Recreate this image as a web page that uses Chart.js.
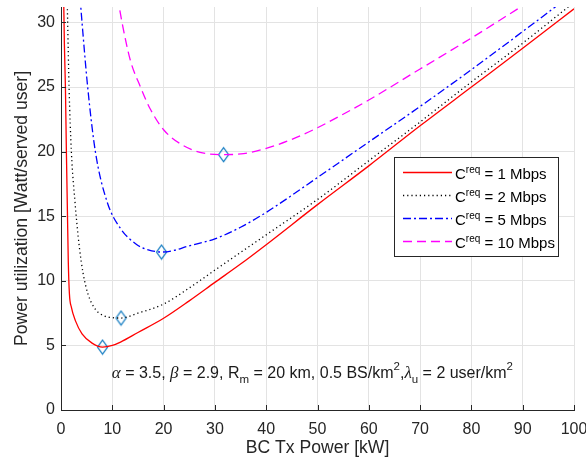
<!DOCTYPE html>
<html>
<head>
<meta charset="utf-8">
<script src="https://cdn.jsdelivr.net/npm/chart.js@4.4.1/dist/chart.umd.min.js"></script>
<style>
  html, body { margin: 0; padding: 0; background: #fff; }
  #wrap { width: 586px; height: 466px; }
</style>
</head>
<body>
<div id="wrap"><canvas id="chart" width="586" height="466"></canvas></div>
<script>
// tick labels
const xTicks = [0, 10, 20, 30, 40, 50, 60, 70, 80, 90, 100];
const yTicks = [0, 5, 10, 15, 20, 25, 30];

// series labels (rate requirement)
const rates = ["1 Mbps", "2 Mbps", "5 Mbps", "10 Mbps"];

// BC Tx power [kW] vs power utilization [Watt/served user]
const powerR1 = [0.5, 0.65, 0.86, 1.05, 1.25, 1.42, 1.64, 2.03, 2.8, 4.1, 6.05, 8.1, 10, 11.6, 15, 20, 25, 30, 35, 40, 50, 60, 70, 80, 90, 100];
const utilR1  = [32.5, 28.5, 25, 20, 15.4, 11.5, 9.0, 7.94, 6.92, 5.9, 5.18, 4.87, 5.0, 5.26, 6.0, 7.1, 8.45, 9.88, 11.3, 12.8, 15.9, 18.9, 22.0, 25.0, 28.0, 31.06];

const powerR2 = [1.15, 1.3, 1.57, 2.02, 2.75, 3.13, 3.58, 4.3, 5.27, 6.7, 8.65, 10, 11.7, 15, 20, 25, 30, 35, 40, 50, 60, 70, 80, 90, 99.5];
const utilR2  = [33, 30, 25, 20, 16.0, 14.3, 12.6, 10.6, 8.97, 7.8, 7.25, 7.15, 7.12, 7.5, 8.2, 9.45, 10.83, 12.2, 13.56, 16.3, 19.3, 22.3, 25.4, 28.4, 31.4];

const powerR5 = [3.7, 4.1, 5.2, 6.7, 9.0, 11.57, 14.8, 17, 19.6, 22, 24.6, 30, 35, 40, 50, 60, 70, 80, 90, 97];
const utilR5  = [32, 30, 25, 20, 16.1, 14.07, 12.8, 12.4, 12.23, 12.35, 12.67, 13.25, 14.15, 15.3, 18.0, 20.75, 23.5, 26.35, 29.3, 31.4];

const powerR10 = [11.0, 11.9, 13.5, 15.5, 17.4, 20, 23.3, 27.1, 31.7, 35.6, 40, 45, 50, 55, 60, 70, 80, 90];
const utilR10  = [32, 30, 27.1, 25, 23.3, 21.7, 20.6, 19.95, 19.77, 19.85, 20.25, 20.95, 21.85, 22.9, 24.0, 26.4, 28.8, 31.3];

// optimum points (diamonds)
const optPower = [8.1, 11.7, 19.6, 31.7];
const optUtil  = [4.87, 7.12, 12.23, 19.77];

const FONT = "'Liberation Sans', Arial, Helvetica, sans-serif";
const AXIS_COLOR = "#262626";

function pts(xs, ys) {
  return xs.map((x, i) => ({ x: x, y: ys[i] }));
}

// diamond marker like matlab 'd'
function diamond() {
  const c = document.createElement("canvas");
  c.width = 13;
  c.height = 17;
  const g = c.getContext("2d");
  g.strokeStyle = "#0072BD";
  g.lineWidth = 1.2;
  g.beginPath();
  g.moveTo(6.5, 1.5);
  g.lineTo(11.5, 8.5);
  g.lineTo(6.5, 15.5);
  g.lineTo(1.5, 8.5);
  g.closePath();
  g.stroke();
  return c;
}

const curveStyles = [
  { color: "#ff0000", dash: [] },
  { color: "#000000", dash: [1.2, 3] },
  { color: "#0000ff", dash: [8, 3, 2, 3] },
  { color: "#ff00ff", dash: [9, 5] }
];

const curves = [pts(powerR1, utilR1), pts(powerR2, utilR2), pts(powerR5, utilR5), pts(powerR10, utilR10)];

const datasets = curves.map((d, i) => ({
  label: rates[i],
  data: d,
  borderColor: curveStyles[i].color,
  borderDash: curveStyles[i].dash,
  borderWidth: 1.3,
  pointRadius: 0,
  cubicInterpolationMode: "monotone",
  fill: false,
  clip: 0
}));

datasets.push({
  label: "opt",
  data: pts(optPower, optUtil),
  showLine: false,
  pointStyle: diamond(),
  pointRadius: 6,
  borderColor: "#0072BD",
  clip: false
});

// ticks pointing inward, like matlab
const inwardTicks = {
  id: "inwardTicks",
  afterDraw(chart) {
    const { ctx, chartArea: a, scales: { x, y } } = chart;
    ctx.save();
    ctx.strokeStyle = AXIS_COLOR;
    ctx.lineWidth = 1;
    ctx.beginPath();
    xTicks.forEach(v => {
      const px = Math.round(x.getPixelForValue(v)) + 0.5;
      ctx.moveTo(px, a.bottom);
      ctx.lineTo(px, a.bottom - 5);
    });
    yTicks.forEach(v => {
      const py = Math.round(y.getPixelForValue(v)) + 0.5;
      ctx.moveTo(a.left, py);
      ctx.lineTo(a.left + 5, py);
    });
    ctx.stroke();
    ctx.restore();
  }
};

function richText(ctx, x, y, parts) {
  parts.forEach(p => {
    ctx.font = p.font;
    ctx.fillText(p.t, x, y + (p.dy || 0));
    x += ctx.measureText(p.t).width;
  });
  return x;
}

const legendBox = {
  id: "legendBox",
  afterDraw(chart) {
    const ctx = chart.ctx;
    const left = 394, top = 157, w = 164, h = 99;
    ctx.save();
    ctx.fillStyle = "#fff";
    ctx.fillRect(left, top, w, h);
    ctx.strokeStyle = AXIS_COLOR;
    ctx.lineWidth = 1;
    ctx.strokeRect(left + 0.5, top + 0.5, w, h);
    rates.forEach((r, i) => {
      const ly = 172.5 + i * 23;
      const ds = chart.data.datasets[i];
      ctx.strokeStyle = ds.borderColor;
      ctx.lineWidth = ds.borderWidth;
      ctx.setLineDash(ds.borderDash);
      ctx.beginPath();
      ctx.moveTo(403, ly);
      ctx.lineTo(452, ly);
      ctx.stroke();
      ctx.setLineDash([]);
      ctx.fillStyle = "#000";
      ctx.textBaseline = "alphabetic";
      richText(ctx, 455, ly + 6.5, [
        { t: "C", font: "15px " + FONT },
        { t: "req", font: "10px " + FONT, dy: -6 },
        { t: " = " + r, font: "15px " + FONT }
      ]);
    });
    ctx.restore();
  }
};

const note = {
  id: "note",
  afterDraw(chart) {
    const { ctx, scales: { x, y } } = chart;
    const sans = "16px " + FONT;
    const small = "11.5px " + FONT;
    const greek = "italic 17px 'Liberation Serif', 'DejaVu Serif', serif";
    ctx.save();
    ctx.fillStyle = "#1a1a1a";
    ctx.textBaseline = "alphabetic";
    richText(ctx, x.getPixelForValue(9.9), y.getPixelForValue(2.47), [
      { t: "\u03b1", font: greek },
      { t: " = 3.5, ", font: sans },
      { t: "\u03b2", font: greek },
      { t: " = 2.9, R", font: sans },
      { t: "m", font: small, dy: 5 },
      { t: " = 20 km, 0.5 BS/km", font: sans },
      { t: "2", font: small, dy: -8 },
      { t: ",", font: sans },
      { t: "\u03bb", font: greek },
      { t: "u", font: small, dy: 5 },
      { t: " = 2 user/km", font: sans },
      { t: "2", font: small, dy: -8 }
    ]);
    ctx.restore();
  }
};

new Chart(document.getElementById("chart"), {
  type: "line",
  data: { datasets: datasets },
  options: {
    responsive: false,
    devicePixelRatio: 1,
    animation: false,
    parsing: false,
    layout: { padding: { left: 0, top: 3, right: 12, bottom: 0 } },
    plugins: {
      legend: { display: false },
      tooltip: { enabled: false }
    },
    scales: {
      x: {
        type: "linear",
        min: 0,
        max: 100,
        afterBuildTicks: s => { s.ticks = xTicks.map(v => ({ value: v })); },
        afterFit: s => { s.height = 56; s.paddingLeft = 0; s.paddingRight = 0; },
        grid: { color: "#e3e3e3", drawTicks: false },
        border: { color: AXIS_COLOR, width: 1 },
        ticks: { padding: 10, color: AXIS_COLOR, font: { family: FONT, size: 16 }, maxRotation: 0 },
        title: {
          display: true,
          text: "BC Tx Power [kW]",
          color: AXIS_COLOR,
          font: { family: FONT, size: 17.6 },
          padding: { top: 0, bottom: 7 }
        }
      },
      y: {
        type: "linear",
        min: 0,
        max: 31.2,
        afterBuildTicks: s => { s.ticks = yTicks.map(v => ({ value: v })); },
        afterFit: s => { s.width = 61; s.paddingTop = 0; s.paddingBottom = 0; },
        grid: { color: "#e3e3e3", drawTicks: false },
        border: { color: AXIS_COLOR, width: 1 },
        ticks: { padding: 6, color: AXIS_COLOR, font: { family: FONT, size: 16 } },
        title: {
          display: true,
          text: "Power utilization [Watt/served user]",
          color: AXIS_COLOR,
          font: { family: FONT, size: 17.6 },
          padding: { top: 12, bottom: 0 }
        }
      }
    }
  },
  plugins: [inwardTicks, legendBox, note]
});
</script>
</body>
</html>
